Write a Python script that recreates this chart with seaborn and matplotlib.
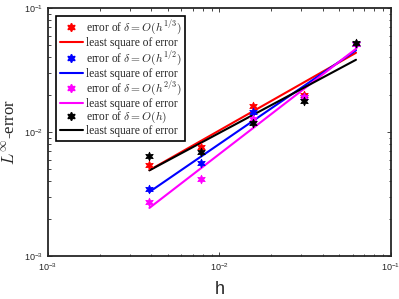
import numpy as np
import pandas as pd
import matplotlib
matplotlib.use("Agg")
import matplotlib.pyplot as plt
from matplotlib.lines import Line2D
import seaborn as sns

# dane
h = [1/256, 1/128, 1/64, 1/32, 1/16]
err_13 = [0.0054, 0.0076, 0.0162, 0.0199, 0.051]
err_12 = [0.0035, 0.0056, 0.0145, 0.0190, 0.051]
err_23 = [0.0027, 0.0042, 0.0127, 0.0191, 0.051]
err_1 = [0.0064, 0.0069, 0.0118, 0.0178, 0.052]
labels = [r"error of $\delta=O(h^{1/3})$", r"error of $\delta=O(h^{1/2})$",
          r"error of $\delta=O(h^{2/3})$", r"error of $\delta=O(h)$"]
colors = ["#ff0000", "#0000ff", "#ff00ff", "#000000"]

sns.set_style("ticks")
plt.rcParams["mathtext.fontset"] = "cm"
plt.rcParams["font.family"] = ["Liberation Sans", "DejaVu Sans"]

fig = plt.figure(figsize=(3.99, 2.99), dpi=100)
ax = fig.add_axes([0.120, 0.144, 0.860, 0.829])

star = (6, 1, 0)
handles = []
for errs, lab, c in zip([err_13, err_12, err_23, err_1], labels, colors):
    df = pd.DataFrame({"h": h, "err": errs})
    # dopasowanie metoda najmniejszych kwadratow w skali log-log
    p = np.polyfit(np.log10(df["h"]), np.log10(df["err"]), 1)
    df["fit"] = 10 ** np.polyval(p, np.log10(df["h"]))
    sns.lineplot(data=df, x="h", y="fit", color=c, lw=1.5, ax=ax)
    sns.scatterplot(data=df, x="h", y="err", color=c, marker=star, s=38,
                    edgecolor=c, linewidth=0.6, ax=ax, zorder=3)
    handles.append(Line2D([], [], ls="none", marker=star, color=c, markersize=6))
    handles.append(Line2D([], [], color=c, lw=1.5))

leg_labels = []
for lab in labels:
    leg_labels += [lab, "least square of error"]

ax.set_xscale("log")
ax.set_yscale("log")
ax.set_xlim(1e-3, 1e-1)
ax.set_ylim(1e-3, 1e-1)
ax.tick_params(which="both", direction="in", top=True, right=True, labelsize=6.5,
               colors="#262626", width=0.6)
ax.tick_params(which="major", length=3)
ax.tick_params(which="minor", length=1.8)
for s in ax.spines.values():
    s.set_linewidth(1.3)
    s.set_color("#262626")

ax.set_xlabel("h", fontsize=13, labelpad=6)
ax.set_ylabel(r"$L^{\infty}$-error", fontsize=12, family="Liberation Serif")

leg = ax.legend(handles, leg_labels, loc="upper left", bbox_to_anchor=(0.025, 0.97),
                prop={"family": "Liberation Serif", "size": 8.3}, frameon=True,
                fancybox=False, edgecolor="black", framealpha=1,
                labelspacing=0.0, handlelength=2.0, handletextpad=0.3,
                borderpad=0.3, borderaxespad=0)
leg.get_frame().set_linewidth(1.2)

fig.savefig("out.png", dpi=100)
